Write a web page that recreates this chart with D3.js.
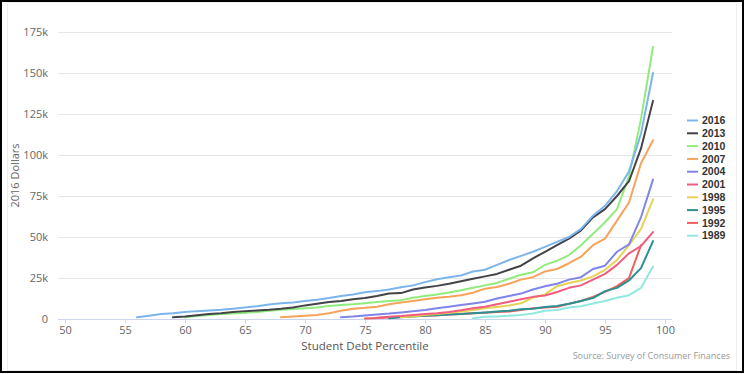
<!DOCTYPE html>
<html>
<head>
<meta charset="utf-8">
<script src="https://cdn.jsdelivr.net/npm/d3@7"></script>
<style>
  html, body { margin: 0; padding: 0; background: #fff; }
  svg { display: block; font-family: "Open Sans", "DejaVu Sans", sans-serif; }
</style>
</head>
<body>
<div id="chart"></div>
<script>
// survey years, legend order
const years = ['2016', '2013', '2010', '2007', '2004', '2001', '1998', '1995', '1992', '1989'];
const colors = ['#7cb5ec', '#434348', '#90ed7d', '#f7a35c', '#8085e9', '#f15c80', '#e4d354', '#2b908f', '#f45b5b', '#91e8e1'];

// first percentile of each series, then values (thousands of 2016 dollars) for each percentile up to 99
const start = { '2016': 56, '2013': 59, '2010': 60, '2007': 68, '2004': 73, '2001': 76, '1998': 78, '1995': 77, '1992': 75, '1989': 84 };

const debt2016 = [1, 2, 3, 3.5, 4.2, 4.8, 5.2, 5.6, 6.3, 7, 7.8, 8.8, 9.6, 10, 11, 11.8, 12.8, 14, 15, 16.3, 17, 18, 19.3, 20.5, 22.5, 24.2, 25.5, 26.5, 29, 30, 33, 36, 38.5, 41, 44, 47, 50, 55, 63, 69, 78, 90, 113, 150];
const debt2013 = [1, 1.5, 2.3, 3, 3.5, 4.2, 4.8, 5.2, 5.6, 6.2, 7, 8.3, 9.3, 10.4, 11, 12, 12.8, 14, 15.6, 15.8, 18, 19.2, 20.2, 21.5, 23, 24.5, 26, 27.5, 30, 32.5, 37, 41, 45, 49, 54, 62, 67, 75, 84, 104, 133];
const debt2010 = [1, 1.8, 2.4, 3, 3.4, 3.8, 4.3, 5, 5.6, 6.1, 6.5, 7, 8, 8.6, 9, 9.6, 10.3, 11, 11.5, 13, 14, 15, 16.2, 17.5, 19, 20.5, 22, 24.5, 27, 28.5, 33, 35.5, 39, 45, 52, 59, 67, 87, 122, 166];
const debt2007 = [1, 1.5, 2, 2.5, 3.5, 5, 6.3, 6.8, 7.5, 9, 10, 11, 12, 13, 13.5, 14.5, 16, 18.5, 19.5, 21.5, 24, 25.5, 29, 30.5, 34, 38, 45, 49, 60, 71, 95, 109];
const debt2004 = [1, 1.5, 2.2, 2.8, 3.3, 4, 4.7, 5.5, 6.5, 7.5, 8.5, 9.5, 10.5, 12.5, 14, 15.5, 18, 20, 21.5, 24, 25.5, 30.5, 32.5, 41, 45.5, 62, 85];
const debt2001 = [0.8, 1.3, 1.8, 2.5, 3, 3.5, 4.3, 5.3, 6.5, 7.5, 9, 10.5, 12, 13.5, 14.3, 16.5, 19, 20.5, 24, 27.5, 33, 40, 44.5, 53];
const debt1998 = [1, 1.5, 2.5, 3, 3.8, 4.5, 5.5, 6.5, 7.3, 8.2, 9.6, 13, 15, 20, 22, 23.5, 26, 30, 36, 45, 55, 73];
const debt1995 = [0.5, 1, 1.5, 2, 2.3, 2.7, 3, 3.5, 4, 4.5, 5, 6, 6.3, 7.3, 8, 9.3, 11, 12.8, 17, 19, 23.5, 31, 47.5];
const debt1992 = [0.3, 0.6, 0.9, 1.2, 1.6, 2, 2.3, 2.7, 3.1, 3.5, 3.8, 4.2, 4.6, 5.5, 6.5, 7, 7.5, 9.3, 11, 13.5, 16.5, 20, 25, 45];
const debt1989 = [0.5, 1.3, 1.6, 2, 2.5, 3.3, 5, 5.5, 7, 7.8, 9.5, 11, 13, 14.5, 19, 32];

const seriesValues = [debt2016, debt2013, debt2010, debt2007, debt2004, debt2001, debt1998, debt1995, debt1992, debt1989];
const xTicks = [50, 55, 60, 65, 70, 75, 80, 85, 90, 95, 100];
const yTicks = [0, 25, 50, 75, 100, 125, 150, 175];

const width = 744, height = 374;
const plot = { left: 58, right: 672, top: 32, bottom: 319 };

const series = years.map((y, i) => ({
  year: y,
  color: colors[i],
  points: seriesValues[i].map((v, j) => ({ p: start[y] + j, v }))
}));

const svg = d3.select('#chart').append('svg')
  .attr('width', width)
  .attr('height', height);

// frame
svg.append('rect')
  .attr('x', 1).attr('y', 1).attr('width', width - 2).attr('height', height - 3)
  .attr('fill', 'none').attr('stroke', '#000').attr('stroke-width', 2);
svg.append('rect')
  .attr('x', 7.5).attr('y', 2.5).attr('width', width - 15).attr('height', height - 6)
  .attr('fill', 'none').attr('stroke', '#eeeeee').attr('stroke-width', 1);

const x = d3.scaleLinear().domain([50, 100]).range([65, 665]);
const y = d3.scaleLinear().domain([0, 175]).range([plot.bottom, plot.top]);

// grid
svg.append('g')
  .selectAll('line')
  .data(yTicks.filter(t => t > 0))
  .enter().append('line')
  .attr('x1', plot.left).attr('x2', plot.right)
  .attr('y1', d => Math.round(y(d)) + 0.5).attr('y2', d => Math.round(y(d)) + 0.5)
  .attr('stroke', '#e6e6e6');

// y axis labels
const yAxis = svg.append('g')
  .attr('transform', `translate(${plot.left - 10},0)`)
  .call(d3.axisLeft(y).tickValues(yTicks).tickSize(0).tickFormat(d => d === 0 ? '0' : d + 'k'));
yAxis.select('.domain').remove();
yAxis.selectAll('text')
  .attr('fill', '#666').attr('font-size', 11).attr('x', 0)
  .attr('font-family', '"Open Sans", sans-serif');

// x axis
const xAxis = svg.append('g')
  .attr('transform', `translate(0,${plot.bottom + 0.5})`)
  .call(d3.axisBottom(x).tickValues(xTicks).tickSize(4).tickPadding(3));
xAxis.select('.domain').attr('d', `M${plot.left},0H${plot.right}`).attr('stroke', '#ccd6eb');
xAxis.selectAll('.tick line').attr('stroke', '#ccd6eb');
xAxis.selectAll('text')
  .attr('fill', '#666').attr('font-size', 11)
  .attr('font-family', '"Open Sans", sans-serif');

// axis titles
svg.append('text')
  .attr('transform', `translate(19,${(plot.top + plot.bottom) / 2}) rotate(-90)`)
  .attr('text-anchor', 'middle')
  .attr('fill', '#666').attr('font-size', 11)
  .text('2016 Dollars');

svg.append('text')
  .attr('x', (plot.left + plot.right) / 2).attr('y', 350)
  .attr('text-anchor', 'middle')
  .attr('fill', '#555').attr('font-size', 11.5)
  .text('Student Debt Percentile');

svg.append('text')
  .attr('x', 730).attr('y', 359)
  .attr('text-anchor', 'end')
  .attr('fill', '#999').attr('font-size', 9)
  .text('Source: Survey of Consumer Finances');

// lines, oldest drawn first so 2016 sits on top
const line = d3.line().x(d => x(d.p)).y(d => y(d.v));
svg.append('g')
  .selectAll('path')
  .data(series.slice().reverse())
  .enter().append('path')
  .attr('d', d => line(d.points))
  .attr('fill', 'none')
  .attr('stroke', d => d.color)
  .attr('stroke-width', 2)
  .attr('stroke-linejoin', 'round')
  .attr('stroke-linecap', 'round');

// legend
const legend = svg.append('g')
  .selectAll('g')
  .data(series)
  .enter().append('g')
  .attr('transform', (d, i) => `translate(687,${120.5 + i * 12.8})`);
legend.append('line')
  .attr('x1', 0).attr('x2', 11)
  .attr('stroke', d => d.color).attr('stroke-width', 2);
legend.append('text')
  .attr('x', 15).attr('dy', '0.35em')
  .attr('fill', '#333').attr('font-size', 10.5).attr('font-weight', 'bold')
  .attr('font-family', '"Liberation Sans", Arial, sans-serif')
  .text(d => d.year);
</script>
</body>
</html>
